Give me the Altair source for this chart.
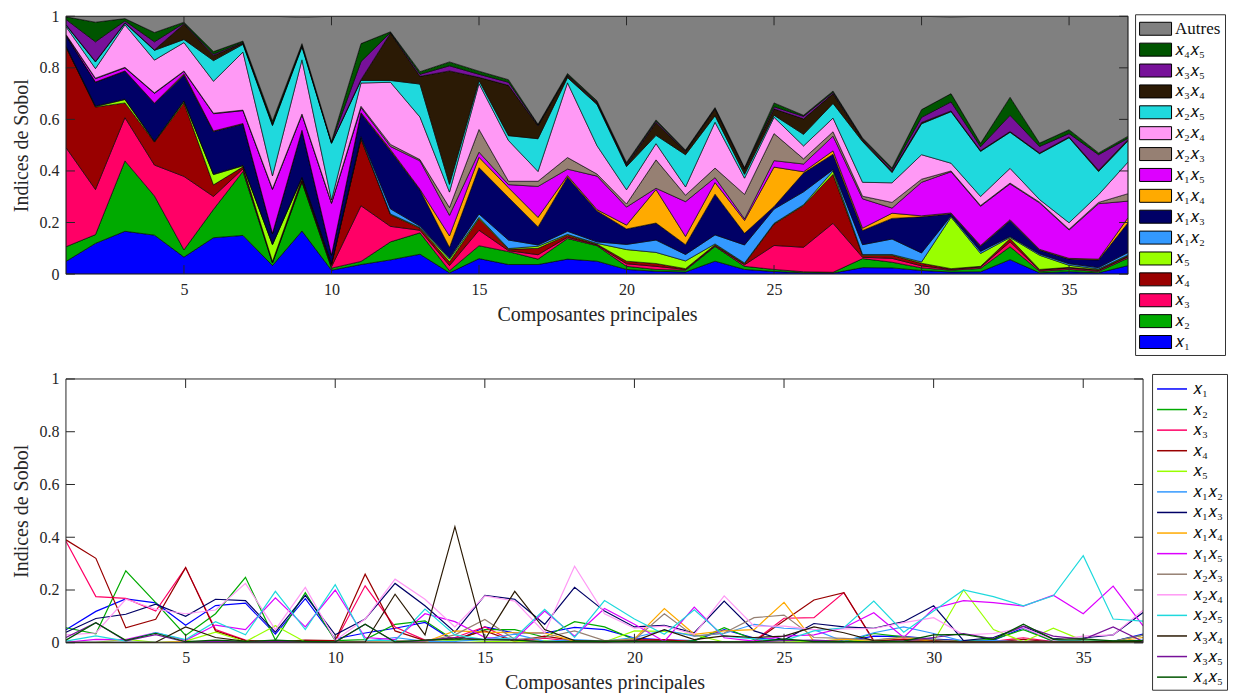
import altair as alt
import pandas as pd

FONT = "Liberation Serif"
W1, H1 = 1063, 258
W2, H2 = 1078, 264
TICK = 9

comps = list(range(1, 38))
xticks = [5, 10, 15, 20, 25, 30, 35]
yticks = [0, 0.2, 0.4, 0.6, 0.8, 1]

names = ["x1", "x2", "x3", "x4", "x5", "x1x2", "x1x3", "x1x4", "x1x5",
         "x2x3", "x2x4", "x2x5", "x3x4", "x3x5", "x4x5"]
labels = ["𝑥₁", "𝑥₂", "𝑥₃", "𝑥₄", "𝑥₅", "𝑥₁𝑥₂", "𝑥₁𝑥₃", "𝑥₁𝑥₄", "𝑥₁𝑥₅",
          "𝑥₂𝑥₃", "𝑥₂𝑥₄", "𝑥₂𝑥₅", "𝑥₃𝑥₄", "𝑥₃𝑥₅", "𝑥₄𝑥₅"]
colors = ["#0000ff", "#00aa00", "#ff0066", "#990000", "#99ff00", "#3399ff",
          "#000066", "#ffaa00", "#dd00ff", "#968073", "#ff99f5", "#1fd9dd",
          "#2b1a05", "#771199", "#005500"]
autres_label = "Autres"
autres_color = "#808080"

x1 = [.049, .119, .166, .151, .066, .141, .15, .033, .167, .015, .037, .055, .077, .005, .06, .037, .037, .058, .05, .018, .011, .008, .05, .018, .01, .005, .004, .025, .024, .014, .008, .009, .056, .005, .009, .005, .033]
x2 = [.057, .034, .273, .152, .028, .11, .248, .01, .19, .008, .012, .07, .083, .008, .05, .05, .021, .08, .06, .012, .007, .007, .057, .012, .008, .004, .003, .035, .022, .01, .007, .013, .05, .006, .009, .005, .029]
x3 = [.385, .175, .168, .12, .285, .05, .01, .003, .004, .005, .216, .06, .01, .02, .06, .004, .017, .005, .003, .01, .012, .003, .003, .006, .093, .095, .19, .005, .015, .008, .003, .005, .019, .004, .005, .004, .005]
x4 = [.39, .32, .057, .089, .285, .045, .008, .003, .01, .008, .26, .045, .008, .015, .045, .005, .025, .008, .003, .01, .011, .003, .004, .004, .083, .162, .19, .008, .012, .01, .003, .003, .013, .003, .003, .003, .004]
x5 = [.002, .002, .013, .002, .006, .04, .004, .065, .003, .003, .003, .003, .003, .01, .005, .003, .008, .003, .003, .045, .043, .03, .003, .003, .003, .003, .013, .003, .003, .005, .2, .05, .004, .055, .008, .003, .003]
x1x2 = [.002, .002, .002, .002, .002, .002, .002, .002, .002, .003, .005, .02, .005, .005, .013, .033, .005, .012, .006, .02, .048, .025, .035, .07, .055, .05, .005, .038, .06, .035, .005, .008, .004, .005, .006, .005, .01]
x1x3 = [.04, .092, .108, .146, .1, .165, .16, .04, .18, .03, .09, .225, .14, .04, .18, .165, .07, .21, .12, .06, .066, .038, .158, .045, .01, .073, .06, .055, .08, .14, .008, .02, .062, .015, .018, .03, .115]
x1x4 = [.001, .001, .001, .001, .005, .002, .002, .002, .002, .002, .003, .005, .003, .045, .04, .038, .037, .006, .005, .015, .13, .032, .045, .05, .153, .005, .013, .009, .02, .004, .003, .003, .003, .003, .003, .003, .02]
x1x5 = [.002, .013, .012, .038, .009, .067, .05, .17, .06, .2, .02, .012, .11, .08, .02, .012, .12, .025, .13, .07, .005, .135, .019, .006, .025, .03, .057, .114, .02, .13, .16, .152, .139, .18, .11, .215, .064]
x2x3 = [.002, .002, .002, .002, .002, .002, .002, .003, .003, .003, .005, .008, .005, .03, .088, .013, .02, .045, .008, .012, .11, .025, .037, .095, .105, .02, .017, .01, .022, .012, .003, .003, .003, .003, .003, .005, .029]
x2x4 = [.03, .037, .165, .127, .11, .124, .225, .05, .21, .01, .09, .241, .165, .06, .178, .158, .038, .29, .11, .055, .063, .032, .178, .063, .063, .05, .053, .054, .076, .095, .03, .035, .057, .01, .025, .03, .123]
x2x5 = [.006, .026, .006, .038, .012, .08, .03, .195, .05, .22, .01, .007, .128, .03, .012, .019, .127, .02, .16, .09, .032, .125, .025, .015, .008, .045, .057, .158, .04, .12, .2, .175, .14, .178, .33, .09, .082]
x3x4 = [.002, .002, .002, .002, .06, .02, .005, .005, .005, .002, .003, .184, .03, .44, .012, .195, .05, .008, .006, .006, .05, .012, .026, .02, .025, .06, .038, .008, .005, .005, .003, .003, .003, .003, .003, .005, .005]
x3x5 = [.02, .076, .007, .031, .003, .005, .003, .003, .003, .002, .07, .002, .008, .02, .012, .012, .003, .003, .003, .005, .005, .003, .003, .003, .008, .01, .005, .003, .007, .02, .035, .015, .063, .025, .013, .06, .005]
x4x5 = [.01, .076, .009, .036, .004, .01, .005, .01, .005, .003, .07, .003, .01, .015, .012, .01, .003, .005, .005, .005, .005, .003, .003, .003, .015, .004, .005, .003, .006, .03, .032, .013, .07, .013, .015, .007, .008]
autres = [.002, .023, .009, .063, .023, .137, .096, .406, .102, .486, .106, .06, .215, .177, .213, .246, .419, .222, .328, .567, .402, .519, .354, .587, .336, .384, .29, .472, .588, .362, .297, .493, .314, .492, .44, .53, .465]

series = [x1, x2, x3, x4, x5, x1x2, x1x3, x1x4, x1x5, x2x3, x2x4, x2x5, x3x4, x3x5, x4x5]

rows = []
for i, (lab, vals) in enumerate(zip(labels, series)):
    for k, v in zip(comps, vals):
        rows.append({"comp": k, "var": lab, "val": v, "ord": i})
df_lines = pd.DataFrame(rows)
df_top = pd.concat([df_lines, pd.DataFrame({"comp": comps, "var": autres_label,
                                             "val": autres, "ord": len(labels)})],
                   ignore_index=True)

top_domain = [autres_label] + labels[::-1]
top_range = [autres_color] + colors[::-1]

xt = pd.DataFrame({"comp": xticks})
yt = pd.DataFrame({"val": yticks})

xscale = alt.Scale(domain=[1, 37], nice=False, zero=False)
yscale = alt.Scale(domain=[0, 1], nice=False)

xaxis = alt.Axis(values=xticks, title="Composantes principales", format="~g")
yaxis = alt.Axis(values=yticks, title="Indices de Sobol", format="~g")


def frame_and_ticks(W, H):
    layers = []
    X = alt.X("comp:Q", scale=xscale, axis=xaxis)
    Y = alt.Y("val:Q", scale=yscale, axis=yaxis)
    layers.append(alt.Chart(xt).mark_rule(color="#262626", strokeWidth=1).encode(
        x=X, y=alt.value(H), y2=alt.value(H - TICK)))
    layers.append(alt.Chart(xt).mark_rule(color="#262626", strokeWidth=1).encode(
        x=X, y=alt.value(0), y2=alt.value(TICK)))
    layers.append(alt.Chart(yt).mark_rule(color="#262626", strokeWidth=1).encode(
        y=Y, x=alt.value(0), x2=alt.value(TICK)))
    layers.append(alt.Chart(yt).mark_rule(color="#262626", strokeWidth=1).encode(
        y=Y, x=alt.value(W), x2=alt.value(W - TICK)))
    base = alt.Chart(xt.head(1))
    layers.append(base.mark_rule(color="#262626", strokeWidth=1).encode(
        x=alt.value(0), x2=alt.value(W), y=alt.value(0)))
    layers.append(base.mark_rule(color="#262626", strokeWidth=1).encode(
        x=alt.value(0), x2=alt.value(W), y=alt.value(H)))
    layers.append(base.mark_rule(color="#262626", strokeWidth=1).encode(
        y=alt.value(0), y2=alt.value(H), x=alt.value(0)))
    layers.append(base.mark_rule(color="#262626", strokeWidth=1).encode(
        y=alt.value(0), y2=alt.value(H), x=alt.value(W)))
    return layers


area = alt.Chart(df_top).mark_area(stroke="black", strokeWidth=0.6,
                                   interpolate="linear", opacity=1, clip=True).encode(
    x=alt.X("comp:Q", scale=xscale, axis=xaxis),
    y=alt.Y("val:Q", stack="zero", scale=yscale, axis=yaxis),
    color=alt.Color("var:N", scale=alt.Scale(domain=top_domain, range=top_range),
                    legend=alt.Legend(title=None, orient="none",
                                      legendX=W1 + 7, legendY=-2,
                                      symbolType="M-1,-0.65H2.2V0.65H-1Z",
                                      symbolSize=400, symbolStrokeColor="black",
                                      symbolStrokeWidth=1, symbolOpacity=1,
                                      labelOffset=15, rowPadding=1.9, padding=4,
                                      strokeColor="#333333", fillColor="white")),
    order=alt.Order("ord:Q", sort="ascending"),
)

top = alt.layer(area, *frame_and_ticks(W1, H1)).properties(width=W1, height=H1)

lines = alt.Chart(df_lines).mark_line(strokeWidth=1.2, clip=True).encode(
    x=alt.X("comp:Q", scale=xscale, axis=xaxis),
    y=alt.Y("val:Q", scale=yscale, axis=yaxis),
    color=alt.Color("var:N", scale=alt.Scale(domain=labels, range=colors),
                    legend=alt.Legend(title=None, orient="none",
                                      legendX=W2 + 9, legendY=-5,
                                      symbolType="M-1,0H2", symbolSize=400,
                                      symbolStrokeWidth=1.5,
                                      labelOffset=15, rowPadding=1.6, padding=4,
                                      strokeColor="#333333", fillColor="white")),
    detail="ord:N",
)

bottom = alt.layer(lines, *frame_and_ticks(W2, H2)).properties(width=W2, height=H2)

chart = alt.vconcat(top, bottom, spacing=15).resolve_scale(
    color="independent", x="independent", y="independent"
).configure(
    padding={"left": 4, "top": 0, "right": 0, "bottom": 0},
    background="white",
).configure_view(
    stroke=None
).configure_axis(
    labelFont=FONT, labelFontSize=16, labelColor="#262626",
    titleFont=FONT, titleFontSize=20, titleFontWeight="normal", titleColor="#262626",
    ticks=False, domain=False, grid=False, labelPadding=7, titlePadding=7,
).configure_legend(
    labelFont=FONT, labelFontSize=17, labelColor="#111111",
)

chart.save("out.html", embed_options={"renderer": "svg", "actions": False})
